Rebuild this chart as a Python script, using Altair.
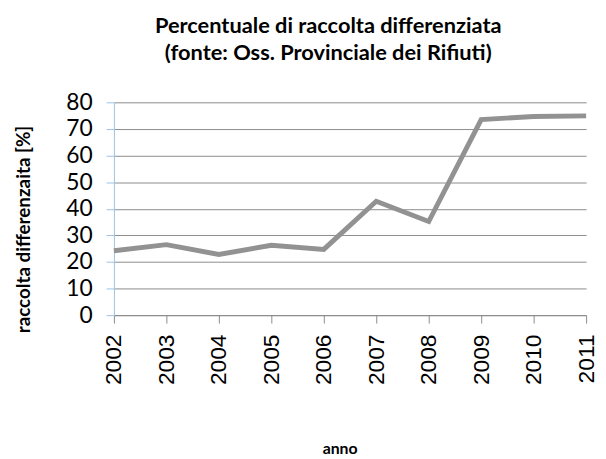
import altair as alt
import pandas as pd

anni = ["2002", "2003", "2004", "2005", "2006", "2007", "2008", "2009", "2010", "2011"]
valori = [24.2, 26.5, 22.8, 26.3, 24.7, 42.8, 35.2, 73.5, 74.7, 74.9]
y_ticks = [0, 10, 20, 30, 40, 50, 60, 70, 80]

df = pd.DataFrame({"anno": anni, "valore": valori})

chart = alt.Chart(df).mark_line(color="#929292", strokeWidth=5).encode(
    x=alt.X("anno:O", scale=alt.Scale(padding=0),
            axis=alt.Axis(title="anno", labelAngle=-90, labelAlign="right", labelBaseline="middle",
                          labelFont="Liberation Sans", labelFontSize=23, labelColor="#000000",
                          labelPadding=11, tickSize=8, tickColor="#8c8c8c", domainColor="#8c8c8c",
                          grid=False, titleFont="Lato", titleFontSize=16, titleFontWeight="bold",
                          titleColor="#000000", titleX=228, titleY=140, titleAlign="center",
                          titleBaseline="alphabetic")),
    y=alt.Y("valore:Q", scale=alt.Scale(domain=[0, 80], nice=False),
            axis=alt.Axis(title="raccolta differenzaita [%]", values=y_ticks,
                          labelFont="Lato", labelFontSize=23, labelColor="#000000",
                          labelPadding=14, tickSize=8, tickColor="#9DC3E6", domainColor="#9DC3E6",
                          grid=True, gridColor="#8c8c8c", gridWidth=1,
                          titleFont="Lato", titleFontSize=19, titleFontWeight="bold",
                          titleColor="#000000", titleX=-91, titleY=128, titleAngle=-90,
                          titleAlign="center", titleBaseline="middle")),
).properties(
    width=477,
    height=215,
    title=alt.TitleParams(
        text=["Percentuale di raccolta differenziata", "(fonte: Oss. Provinciale dei Rifiuti)"],
        font="Lato", fontSize=22, fontWeight="bold", color="#000000",
        lineHeight=27, anchor="middle", dx=-22, offset=27),
    autosize="none",
    padding={"left": 107, "top": 93, "right": 12, "bottom": 141},
).configure_view(stroke=None)

chart.save("out.html", embed_options={"renderer": "svg", "actions": False})
